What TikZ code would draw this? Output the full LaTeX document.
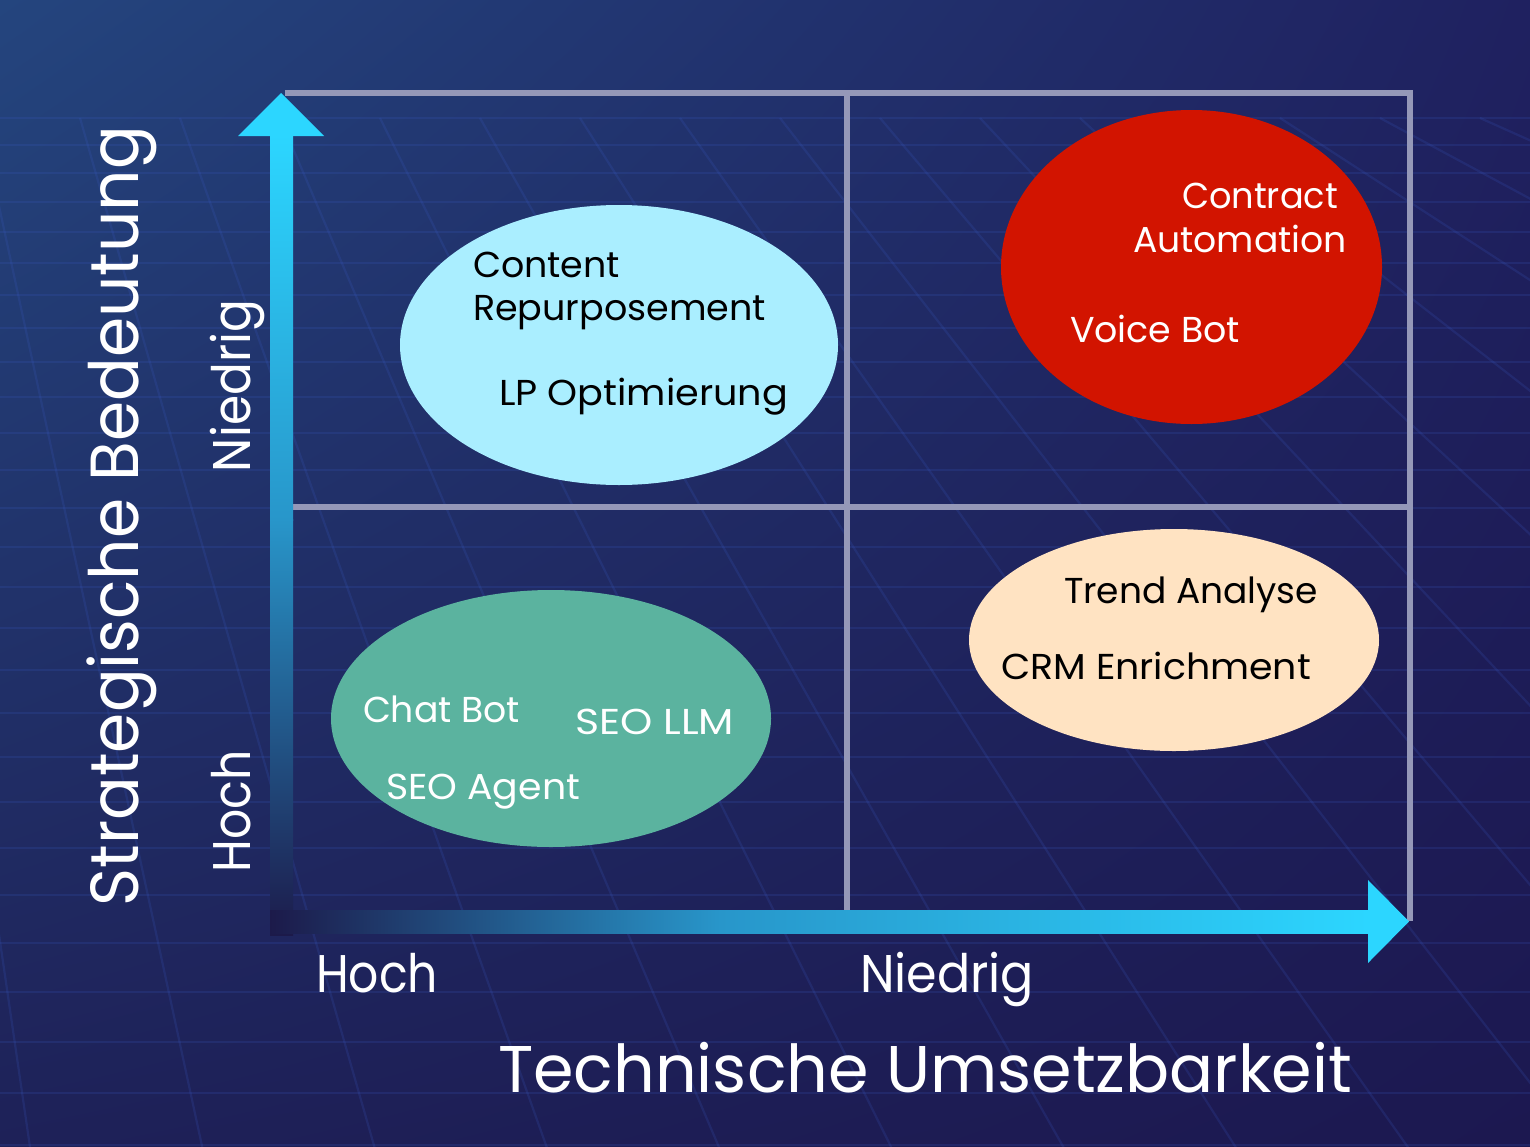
\documentclass[tikz,border=0pt]{standalone}
\usepackage{fontspec}
\setmainfont{Poppins}
\usepackage{graphicx}
\usetikzlibrary{shapes.geometric,shadings}
\definecolor{bgA}{HTML}{24457E}
\definecolor{bgB}{HTML}{1F2160}
\definecolor{bgC}{HTML}{1E2158}
\definecolor{bgD}{HTML}{1C1850}
\definecolor{gridc}{HTML}{3A5CC8}
\definecolor{framec}{HTML}{9598B8}
\definecolor{axcyan}{HTML}{2CD6FF}
\definecolor{axmid}{HTML}{2896CA}
\definecolor{axdark}{HTML}{1C1A4A}
\definecolor{ecyan}{HTML}{AAEEFF}
\definecolor{ered}{HTML}{D21400}
\definecolor{egreen}{HTML}{5BB39F}
\definecolor{epeach}{HTML}{FFE3C2}
\newcommand{\fitw}[3]{\resizebox{#1pt}{\height}{\fontsize{#2pt}{#2pt}\selectfont #3}}
\tikzset{
  gridline/.style={draw=gridc, line width=2.2pt, opacity=0.18},
  frameline/.style={draw=framec, line width=6pt},
  blob/.style={ellipse, inner sep=0pt, draw=none},
  lbl/.style={inner sep=0pt, outer sep=0pt, anchor=base west},
  dark/.style={text=black},
  light/.style={text=white},
}
\begin{document}
\begin{tikzpicture}[x=1pt,y=-1pt]
\useasboundingbox (0,0) rectangle (1530,1146);
% background
\shade[upper left=bgA, upper right=bgB, lower left=bgC, lower right=bgD] (0,0) rectangle (1530,1146);
\begin{scope}
\clip (0,116) rectangle (1530,1146);
\foreach \k in {0,...,26} {
  \pgfmathsetmacro\yy{118+27*\k+0.5*\k*(\k-1)}
  \draw[gridline] (0,\yy) -- (1530,\yy);
}
\foreach \xa in {-320,-220,...,1580} {
  \pgfmathsetmacro\tt{max(0,\xa-900)*0.0017}
  \pgfmathsetmacro\s{0.23+0.0007*\xa+\tt*\tt}
  \pgfmathsetmacro\dx{\s*1030}
  \draw[gridline] (\xa,118) -- ++(\dx,1030);
}
\end{scope}
% frame
\coordinate (tl) at (285,93);
\coordinate (tr) at (1410,93);
\coordinate (br) at (1410,921);
\coordinate (mt) at (847,93);
\coordinate (mb) at (847,910);
\coordinate (ml) at (293,507);
\coordinate (mr) at (1410,507);
\draw[frameline] (tl) -- (tr) -- (br);
\draw[frameline] (mt) -- (mb);
\draw[frameline] (ml) -- (mr);
% y axis
\shade[top color=axcyan, bottom color=axmid] (270,135) rectangle (293,520);
\shade[top color=axmid, bottom color=axdark] (270,519) rectangle (293,935);
\fill[axcyan] (238,136) -- (281,93) -- (324,136) -- cycle;
% x axis
\shade[left color=axdark, right color=axmid] (270,910) rectangle (720,933);
\shade[left color=axmid, right color=axcyan] (719,910) rectangle (1369,933);
\fill[axcyan] (1368,880) -- (1409,921.5) -- (1368,963) -- cycle;
% ellipses
\node[blob, fill=ecyan, minimum width=438pt, minimum height=280pt] (ec) at (619,345) {};
\node[blob, fill=ered, minimum width=381pt, minimum height=314pt] (er) at (1191.5,267) {};
\node[blob, fill=egreen, minimum width=440pt, minimum height=257pt] (eg) at (551,718.5) {};
\node[blob, fill=epeach, minimum width=410pt, minimum height=222pt] (ep) at (1174,640) {};
% ellipse texts
\node[lbl, dark] (t1) at (473,277) {\fitw{147}{36}{Content}};
\node[lbl, dark] (t2) at (473,320) {\fitw{293}{36}{Repurposement}};
\node[lbl, dark] (t3) at (499,405) {\fitw{289}{36}{LP Optimierung}};
\node[lbl, light] (t4) at (1182,208) {\fitw{156}{36}{Contract}};
\node[lbl, light] (t5) at (1133,252) {\fitw{214}{36}{Automation}};
\node[lbl, light] (t6) at (1070,342) {\fitw{170}{36}{Voice Bot}};
\node[lbl, light] (t7) at (363,722) {\fitw{157}{36}{Chat Bot}};
\node[lbl, light] (t8) at (575,734) {\fitw{159}{36}{SEO LLM}};
\node[lbl, light] (t9) at (386,799) {\fitw{194}{36}{SEO Agent}};
\node[lbl, dark] (t10) at (1064,603) {\fitw{254}{36}{Trend Analyse}};
\node[lbl, dark] (t11) at (1001,679) {\fitw{310}{36}{CRM Enrichment}};
% axis labels
\node[lbl, light] (xh) at (316,992) {\fitw{122}{53}{Hoch}};
\node[lbl, light] (xn) at (860,992) {\fitw{174}{53}{Niedrig}};
\node[lbl, light] (xt) at (498,1092) {\fitw{854}{66}{Technische Umsetzbarkeit}};
\node[lbl, light, rotate=90] (yh) at (250,872) {\fitw{122}{53}{Hoch}};
\node[lbl, light, rotate=90] (yn) at (250,472) {\fitw{172}{53}{Niedrig}};
\node[lbl, light, rotate=90] (yt) at (138,906) {\fitw{780}{68}{Strategische Bedeutung}};
\end{tikzpicture}
\end{document}
